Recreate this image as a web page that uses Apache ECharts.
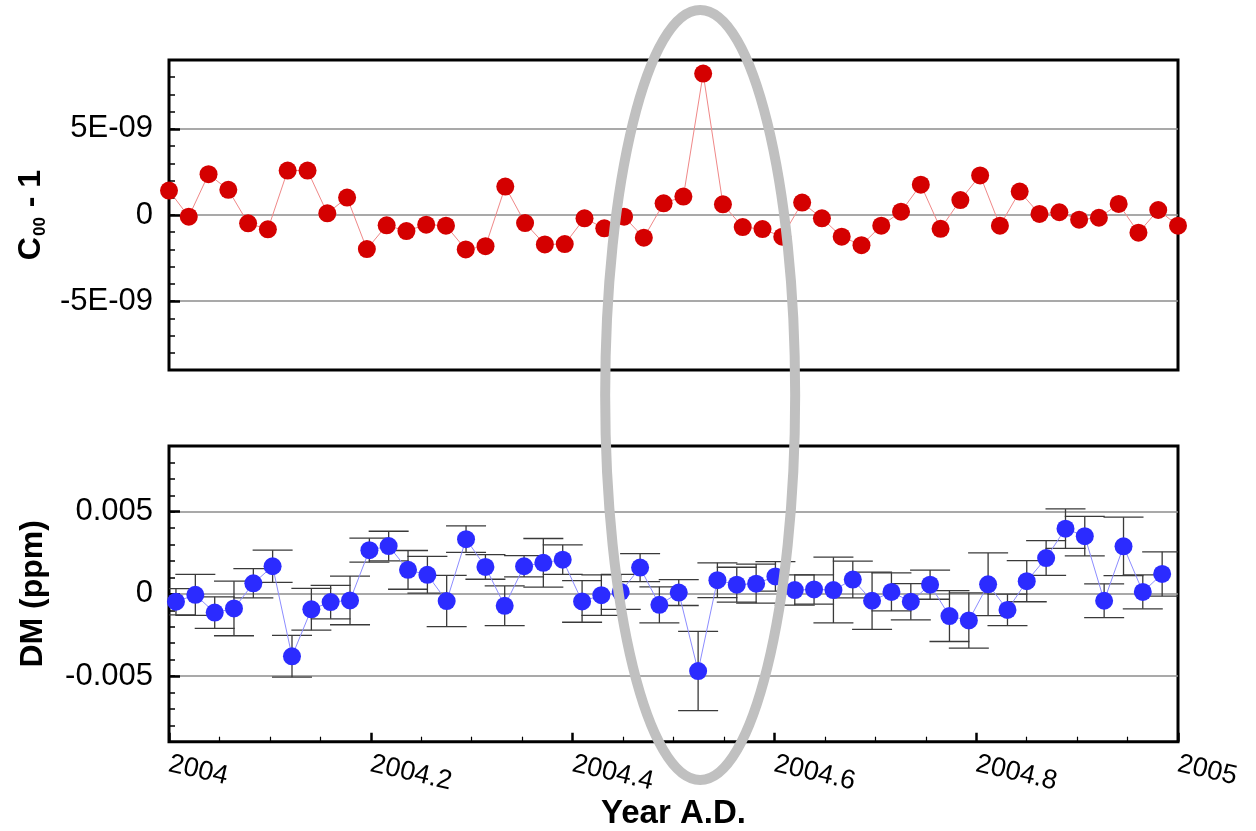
<!DOCTYPE html>
<html>
<head>
<meta charset="utf-8">
<script src="https://cdn.jsdelivr.net/npm/echarts@6/dist/echarts.min.js"></script>
<style>
  html, body { margin: 0; padding: 0; background: #ffffff; }
  #chart { width: 1256px; height: 831px; }
</style>
</head>
<body>
<div id="chart"></div>
<script>
// Gravity field coefficient C00 - 1, one value per solution epoch (2004)
const c00Years = [
  2004.0000, 2004.0196, 2004.0392, 2004.0588, 2004.0784, 2004.0980, 2004.1176, 2004.1373,
  2004.1569, 2004.1765, 2004.1961, 2004.2157, 2004.2353, 2004.2549, 2004.2745, 2004.2941,
  2004.3137, 2004.3333, 2004.3529, 2004.3725, 2004.3922, 2004.4118, 2004.4314, 2004.4510,
  2004.4706, 2004.4902, 2004.5098, 2004.5294, 2004.5490, 2004.5686, 2004.5882, 2004.6078,
  2004.6275, 2004.6471, 2004.6667, 2004.6863, 2004.7059, 2004.7255, 2004.7451, 2004.7647,
  2004.7843, 2004.8039, 2004.8235, 2004.8431, 2004.8627, 2004.8824, 2004.9020, 2004.9216,
  2004.9412, 2004.9608, 2004.9804, 2005.0000
];
const c00Values = [
  1.42e-9, -0.10e-9, 2.37e-9, 1.46e-9, -0.48e-9, -0.83e-9, 2.58e-9, 2.58e-9,
  0.10e-9, 1.01e-9, -1.98e-9, -0.60e-9, -0.93e-9, -0.56e-9, -0.62e-9, -2.00e-9,
  -1.81e-9, 1.65e-9, -0.47e-9, -1.71e-9, -1.69e-9, -0.19e-9, -0.77e-9, -0.10e-9,
  -1.32e-9, 0.68e-9, 1.07e-9, 8.21e-9, 0.62e-9, -0.70e-9, -0.82e-9, -1.26e-9,
  0.72e-9, -0.19e-9, -1.26e-9, -1.75e-9, -0.62e-9, 0.19e-9, 1.76e-9, -0.80e-9,
  0.87e-9, 2.30e-9, -0.62e-9, 1.36e-9, 0.06e-9, 0.16e-9, -0.27e-9, -0.16e-9,
  0.64e-9, -1.03e-9, 0.29e-9, -0.62e-9
];

// Weekly DM estimates (ppm) with their uncertainties
const dmYears = [
  2004.0069, 2004.0261, 2004.0453, 2004.0644, 2004.0836, 2004.1027, 2004.1219, 2004.1411,
  2004.1602, 2004.1794, 2004.1986, 2004.2177, 2004.2369, 2004.2561, 2004.2752, 2004.2944,
  2004.3136, 2004.3327, 2004.3519, 2004.3710, 2004.3902, 2004.4094, 2004.4285, 2004.4477,
  2004.4669, 2004.4860, 2004.5052, 2004.5244, 2004.5435, 2004.5627, 2004.5819, 2004.6010,
  2004.6202, 2004.6393, 2004.6585, 2004.6777, 2004.6968, 2004.7160, 2004.7352, 2004.7543,
  2004.7735, 2004.7927, 2004.8118, 2004.8310, 2004.8501, 2004.8693, 2004.8885, 2004.9076,
  2004.9268, 2004.9460, 2004.9651, 2004.9843
];
const dmValues = [
  -0.00048, -0.00006, -0.00114, -0.00089, 0.00064, 0.00168, -0.00380, -0.00094,
  -0.00050, -0.00040, 0.00266, 0.00291, 0.00146, 0.00116, -0.00044, 0.00333,
  0.00164, -0.00073, 0.00168, 0.00189, 0.00208, -0.00046, -0.00008, 0.00012,
  0.00160, -0.00067, 0.00008, -0.00470, 0.00083, 0.00056, 0.00062, 0.00106,
  0.00023, 0.00027, 0.00023, 0.00087, -0.00042, 0.00012, -0.00048, 0.00056,
  -0.00135, -0.00162, 0.00058, -0.00098, 0.00077, 0.00218, 0.00397, 0.00351,
  -0.00042, 0.00289, 0.00012, 0.00121
];
const dmErrors = [
  0.00080, 0.00125, 0.00096, 0.00166, 0.00089, 0.00098, 0.00127, 0.00127,
  0.00102, 0.00148, 0.00073, 0.00090, 0.00118, 0.00112, 0.00156, 0.00081,
  0.00075, 0.00121, 0.00065, 0.00148, 0.00090, 0.00127, 0.00123, 0.00106,
  0.00085, 0.00110, 0.00079, 0.00241, 0.00106, 0.00106, 0.00119, 0.00090,
  0.00092, 0.00089, 0.00200, 0.00112, 0.00174, 0.00116, 0.00110, 0.00089,
  0.00155, 0.00168, 0.00191, 0.00096, 0.00125, 0.00106, 0.00120, 0.00120,
  0.00103, 0.00178, 0.00103, 0.00135
];

// Axis ranges
const yearRange = [2004, 2005];
const c00Range = [-9e-9, 9e-9];
const dmRange = [-0.009, 0.009];
// index of the week marked by the ellipse
const flaggedIndex = 27;

const FONT = 'Liberation Sans, Arial, Helvetica, sans-serif';
const CAP_HALF = 20;
const Y_LABEL_SIZE = 31;

function sciLabel(v) {
  if (Math.abs(v) < 1e-15) return '0';
  const parts = v.toExponential(0).split('e');
  const exp = parseInt(parts[1], 10);
  return parts[0] + 'E' + (exp < 0 ? '-' : '+') + String(Math.abs(exp)).padStart(2, '0');
}

const chart = echarts.init(document.getElementById('chart'), null, { renderer: 'canvas' });

const yLabelStyle = (formatter) => ({
  show: true, margin: 16, color: '#000', fontSize: Y_LABEL_SIZE, fontFamily: FONT,
  showMinLabel: false, showMaxLabel: false, formatter: formatter
});

const majorYAxis = (gridIndex, range, extra) => Object.assign({
  type: 'value',
  gridIndex: gridIndex,
  position: 'left',
  min: range[0],
  max: range[1],
  splitNumber: 4,
  axisLine: { show: false, onZero: false },
  axisTick: { show: true, inside: true, length: 11, lineStyle: { color: '#000', width: 2.5 } },
  axisLabel: yLabelStyle(undefined),
  splitLine: {
    show: true, showMinLine: false, showMaxLine: false,
    lineStyle: { color: '#8c8c8c', width: 1.6 }
  },
  nameLocation: 'middle',
  nameGap: 120,
  nameTextStyle: { color: '#000', fontSize: 32, fontWeight: 'bold', fontFamily: FONT }
}, extra);

const minorYAxis = (gridIndex, range, step) => ({
  type: 'value',
  gridIndex: gridIndex,
  position: 'left',
  min: range[0],
  max: range[1],
  interval: step,
  axisLine: { show: false, onZero: false },
  axisTick: { show: true, inside: true, length: 6, lineStyle: { color: '#000', width: 1.5 } },
  axisLabel: { show: false },
  splitLine: { show: false }
});

const option = {
  backgroundColor: '#ffffff',
  animation: false,
  grid: [
    { left: 169, top: 60, width: 1009, height: 310, show: true,
      borderColor: '#000', borderWidth: 3, backgroundColor: 'transparent' },
    { left: 169, top: 446, width: 1009, height: 310, show: true,
      borderColor: '#000', borderWidth: 3, backgroundColor: 'transparent' }
  ],
  xAxis: [
    {
      type: 'value', gridIndex: 0, position: 'bottom', min: yearRange[0], max: yearRange[1], interval: 0.2,
      axisLine: { show: false, onZero: false }, axisTick: { show: false }, axisLabel: { show: false },
      splitLine: { show: false }
    },
    {
      type: 'value', gridIndex: 1, position: 'bottom', min: yearRange[0], max: yearRange[1], interval: 0.2,
      axisLine: { show: false, onZero: false },
      axisTick: { show: true, inside: true, length: 9, lineStyle: { color: '#000', width: 2.5 } },
      minorTick: { show: true, splitNumber: 4, length: 5, lineStyle: { color: '#000', width: 1.2 } },
      axisLabel: {
        show: true, rotate: -13, margin: 22, color: '#000', fontSize: 27, fontFamily: FONT,
        formatter: (v) => String(Math.round(v * 10) / 10)
      },
      splitLine: { show: false },
      name: 'Year A.D.',
      nameLocation: 'middle',
      nameGap: 38,
      nameTextStyle: { color: '#000', fontSize: 33, fontWeight: 'bold', fontFamily: FONT }
    }
  ],
  yAxis: [
    majorYAxis(0, c00Range, {
      axisLabel: yLabelStyle(sciLabel),
      name: '{m|C}{s|00}{m| - 1}',
      nameTextStyle: {
        color: '#000', fontFamily: FONT, fontWeight: 'bold', fontSize: 32,
        rich: {
          m: { fontSize: 32, fontWeight: 'bold', fontFamily: FONT, color: '#000',
               lineHeight: 34, verticalAlign: 'top' },
          s: { fontSize: 17, fontWeight: 'bold', fontFamily: FONT, color: '#000',
               lineHeight: 17, padding: [21, 1, 0, 1], verticalAlign: 'bottom' }
        }
      }
    }),
    minorYAxis(0, c00Range, 1e-9),
    majorYAxis(1, dmRange, { name: 'DM (ppm)' }),
    minorYAxis(1, dmRange, 0.001)
  ],
  series: [
    {
      name: 'C00 - 1',
      type: 'line',
      xAxisIndex: 0, yAxisIndex: 0,
      data: c00Years.map((x, i) => [x, c00Values[i]]),
      symbol: 'circle', symbolSize: 18, showAllSymbol: true,
      itemStyle: { color: '#d40000' },
      lineStyle: { color: '#f08888', width: 1 },
      clip: false, z: 3, silent: true
    },
    {
      name: 'DM error',
      type: 'custom',
      xAxisIndex: 1, yAxisIndex: 2,
      data: dmYears.map((x, i) => [x, dmValues[i] - dmErrors[i], dmValues[i] + dmErrors[i]]),
      renderItem: function (params, api) {
        const x = api.value(0);
        const lo = api.coord([x, api.value(1)]);
        const hi = api.coord([x, api.value(2)]);
        const st = { stroke: '#3a3a3a', lineWidth: 1.3 };
        return {
          type: 'group',
          children: [
            { type: 'line', shape: { x1: lo[0], y1: lo[1], x2: hi[0], y2: hi[1] }, style: st },
            { type: 'line', shape: { x1: lo[0] - CAP_HALF, y1: lo[1], x2: lo[0] + CAP_HALF, y2: lo[1] }, style: st },
            { type: 'line', shape: { x1: hi[0] - CAP_HALF, y1: hi[1], x2: hi[0] + CAP_HALF, y2: hi[1] }, style: st }
          ]
        };
      },
      clip: true, z: 1, silent: true
    },
    {
      name: 'DM',
      type: 'line',
      xAxisIndex: 1, yAxisIndex: 2,
      data: dmYears.map((x, i) => [x, dmValues[i]]),
      symbol: 'circle', symbolSize: 18, showAllSymbol: true,
      itemStyle: { color: '#2b2bff' },
      lineStyle: { color: '#8c8cff', width: 1 },
      clip: false, z: 3, silent: true
    }
  ]
};

chart.setOption(option);

// Highlight ring around the flagged week, spanning both panels
const ringX = chart.convertToPixel({ xAxisIndex: 0 }, c00Years[flaggedIndex]) - 3;
chart.setOption({
  graphic: [{
    type: 'ellipse',
    shape: { cx: ringX, cy: 395, rx: 95, ry: 385 },
    style: { fill: 'transparent', stroke: '#c0c0c0', lineWidth: 10 },
    z: 100, silent: true
  }]
});
</script>
</body>
</html>
